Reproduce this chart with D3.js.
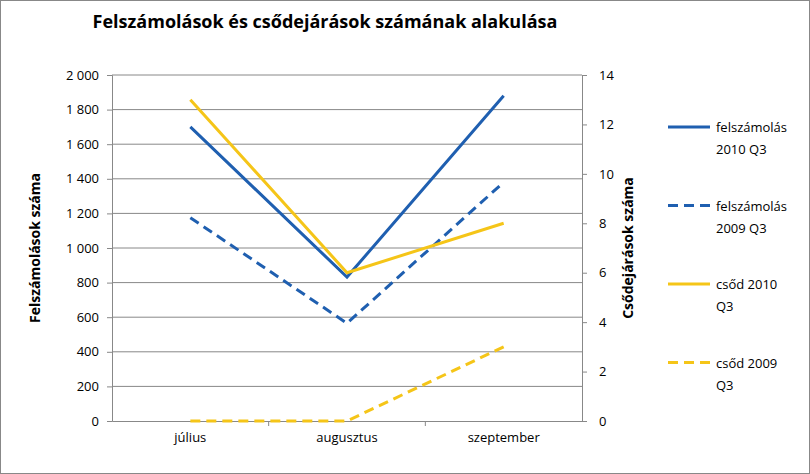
<!DOCTYPE html>
<html><head><meta charset="utf-8">
<script src="https://cdn.jsdelivr.net/npm/d3@7"></script>
<style>body{margin:0;background:#fff}text{font-family:"Open Sans",sans-serif}</style>
</head><body>
<svg id="chart" width="810" height="474"></svg>
<script>
var months = ["július", "augusztus", "szeptember"];
var felsz2010 = [1700, 832, 1880];
var felsz2009 = [1175, 565, 1380];
var csod2010 = [13, 6, 8];
var csod2009 = [0, 0, 3];
var leftTicks = [0, 200, 400, 600, 800, 1000, 1200, 1400, 1600, 1800, 2000];
var rightTicks = [0, 2, 4, 6, 8, 10, 12, 14];

var svg = d3.select("#chart");
var m = {l: 112, r: 582, t: 75, b: 421};
var x = d3.scaleBand().domain(months).range([m.l, m.r]);
var yL = d3.scaleLinear().domain([0, 2000]).range([m.b, m.t]);
var yR = d3.scaleLinear().domain([0, 14]).range([m.b, m.t]);
var fmt = function (d) { return d3.format(",")(d).replace(",", " "); };

svg.append("rect").attr("x", 0.5).attr("y", 0.5).attr("width", 809).attr("height", 473)
	.attr("fill", "#fff").attr("stroke", "#888");

svg.append("text").attr("x", 325).attr("y", 28).attr("text-anchor", "middle")
	.attr("font-size", 18).attr("font-weight", "bold").text("Felszámolások és csődejárások számának alakulása");

// gridlines
svg.selectAll(".grid").data(leftTicks.slice(1)).enter().append("line")
	.attr("x1", m.l).attr("x2", m.r).attr("y1", yL).attr("y2", yL)
	.attr("stroke", "#888").attr("stroke-width", 1);

svg.append("g").attr("transform", "translate(" + m.l + ",0)")
	.call(d3.axisLeft(yL).tickValues(leftTicks).tickFormat(fmt).tickSize(5).tickPadding(8))
	.call(g => g.selectAll("text").attr("font-size", 13).attr("fill", "#000"))
	.call(g => g.selectAll("line,path").attr("stroke", "#888"));
svg.append("g").attr("transform", "translate(" + m.r + ",0)")
	.call(d3.axisRight(yR).tickValues(rightTicks).tickSize(5).tickPadding(12))
	.call(g => g.selectAll("text").attr("font-size", 13).attr("fill", "#000"))
	.call(g => g.selectAll("line,path").attr("stroke", "#888"));
var xa = svg.append("g").attr("transform", "translate(0," + m.b + ")")
	.call(d3.axisBottom(x).tickSize(0).tickPadding(12));
xa.selectAll("text").attr("font-size", 13).attr("fill", "#000");
xa.select("path").attr("stroke", "#888");
xa.selectAll(".sep").data(months.slice(1)).enter().append("line")
	.attr("x1", d => x(d)).attr("x2", d => x(d)).attr("y1", 0).attr("y2", 5).attr("stroke", "#888");

svg.append("text").attr("transform", "translate(40," + (m.t + m.b) / 2 + ") rotate(-90)")
	.attr("text-anchor", "middle").attr("font-size", 14).attr("font-weight", "bold").text("Felszámolások száma");
svg.append("text").attr("transform", "translate(633," + (m.t + m.b) / 2 + ") rotate(-90)")
	.attr("text-anchor", "middle").attr("font-size", 14).attr("font-weight", "bold").text("Csődejárások száma");

var cx = d => x(d) + x.bandwidth() / 2;
var series = [
	{vals: felsz2010, y: yL, color: "#1f5fb0", dash: null, name: ["felszámolás", "2010 Q3"]},
	{vals: felsz2009, y: yL, color: "#1f5fb0", dash: "10,6", name: ["felszámolás", "2009 Q3"]},
	{vals: csod2010, y: yR, color: "#f5c518", dash: null, name: ["csőd 2010", "Q3"]},
	{vals: csod2009, y: yR, color: "#f5c518", dash: "10,6", name: ["csőd 2009", "Q3"]}
];
series.forEach(function (s, i) {
	var line = d3.line().x((d, j) => cx(months[j])).y(d => s.y(d));
	svg.append("path").datum(s.vals).attr("d", line).attr("fill", "none")
		.attr("stroke", s.color).attr("stroke-width", 3).attr("stroke-dasharray", s.dash);
	var ly = 127 + i * 78.5;
	svg.append("line").attr("x1", 668).attr("x2", 710).attr("y1", ly).attr("y2", ly)
		.attr("stroke", s.color).attr("stroke-width", 3).attr("stroke-dasharray", s.dash);
	s.name.forEach(function (t, k) {
		svg.append("text").attr("x", 716).attr("y", ly + 5 + k * 22).attr("font-size", 13).text(t);
	});
});
</script>
</body></html>
